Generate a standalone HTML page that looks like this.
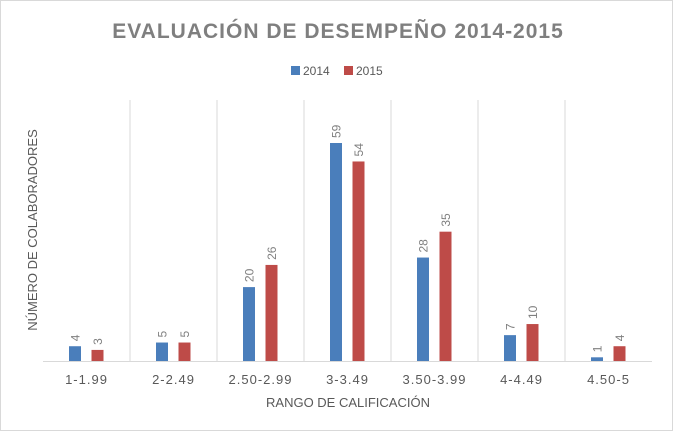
<!DOCTYPE html>
<html><head><meta charset="utf-8"><style>
body{margin:0;background:#fff}
svg{display:block;font-family:"Liberation Sans",sans-serif}
</style></head><body>
<svg id="c" width="675" height="432">
<rect x="0.5" y="0.5" width="672" height="430" fill="#fff" stroke="#d9d9d9"/>
<text x="338" y="38" text-anchor="middle" font-size="21" font-weight="bold" fill="#7f7f7f" letter-spacing="1">EVALUACIÓN DE DESEMPEÑO 2014-2015</text>
<g>
<rect x="291" y="66" width="9" height="9" fill="#4a7ebb"/>
<text x="303" y="75" font-size="12" fill="#595959">2014</text>
<rect x="344" y="66" width="9" height="9" fill="#be4b48"/>
<text x="356" y="75" font-size="12" fill="#595959">2015</text>
</g>
<text transform="translate(37,230) rotate(-90)" text-anchor="middle" font-size="13" fill="#595959">NÚMERO DE COLABORADORES</text>
<text x="348" y="407" text-anchor="middle" font-size="13" fill="#595959">RANGO DE CALIFICACIÓN</text>
<g id="plot"></g>
</svg>
<script>
const categories=["1-1.99","2-2.49","2.50-2.99","3-3.49","3.50-3.99","4-4.49","4.50-5"];
const values2014=[4,5,20,59,28,7,1];
const values2015=[3,5,26,54,35,10,4];
const NS="http://www.w3.org/2000/svg";
const g=document.getElementById("plot");
const x0=43,x1=652,base=361,yMaxPx=218,yMaxVal=59;
const bw=(x1-x0)/categories.length;
function xc(i){return x0+bw*(i+0.5);}
function yh(v){return v*yMaxPx/yMaxVal;}
function mk(t,a){const e=document.createElementNS(NS,t);for(const k in a)e.setAttribute(k,a[k]);g.appendChild(e);return e;}
for(let i=1;i<categories.length;i++){
 const l=mk("line",{x1:x0+bw*i,x2:x0+bw*i,y1:100,y2:base,stroke:"#d9d9d9"});
 
 
}
const ax=mk("line",{x1:x0,x2:x1,y1:base+0.5,y2:base+0.5,stroke:"#d9d9d9"});


function bar(v,x,col,name){
 const h=yh(v);
 const r=mk("rect",{x:x,y:base-h,width:12,height:h,fill:col});
 
 
 const t=mk("text",{transform:`translate(${x+10.5},${base-h-5}) rotate(-90)`,"font-size":12,fill:"#7f7f7f"});
 t.textContent=v;
 
 
}
categories.forEach((c,i)=>{
 const cx=xc(i);
 bar(values2014[i],cx-17.5,"#4a7ebb","bar-2014");
 bar(values2015[i],cx+5,"#be4b48","bar-2015");
 const t=mk("text",{x:cx,y:384,"text-anchor":"middle","font-size":13,fill:"#595959","letter-spacing":"1"});
 t.textContent=c;
 
 
});
</script>
</body></html>
